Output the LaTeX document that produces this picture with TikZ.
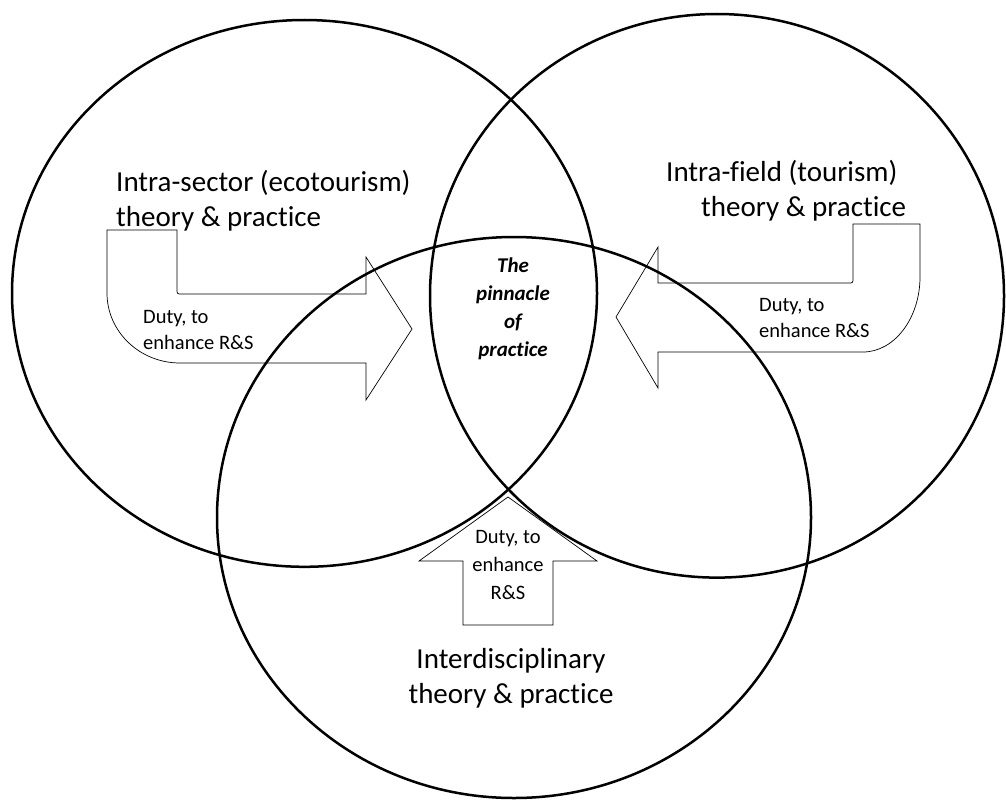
\documentclass[tikz,border=0pt]{standalone}
\usepackage{fontspec}
\setmainfont{Carlito}[Ligatures=NoCommon]

\begin{document}
\begin{tikzpicture}[x=1pt, y=-1pt,
		ring/.style={line width=2.5pt},
		blockarrow/.style={line width=0.7pt, line join=miter},
		bigtext/.style={font=\fontsize{29}{35}\selectfont, inner sep=0pt},
		dutytext/.style={font=\fontsize{20.5}{26}\selectfont, inner sep=0pt}]
		\useasboundingbox (0,0) rectangle (1006,800);
		
		% the three circles
		\draw[ring] (304.5,293.4) ellipse [x radius=292.5pt, y radius=273.4pt]; % sector
		\draw[ring] (717,295.8) ellipse [x radius=287pt, y radius=281.8pt]; % field
		\draw[ring] (514,517.5) ellipse [x radius=297pt, y radius=280.5pt]; % interdisciplinary
		
		% block arrows pointing at the middle
		\draw[blockarrow] (107,230) -- (177,230) -- (177,289) .. controls (177,294) .. (182,294)
		-- (366,294) -- (366,257) -- (412,329) -- (366,400) -- (366,363) -- (180,363)
		.. controls (140,363) and (107,332) .. (107,293) -- cycle;
		\draw[blockarrow] (920,224) -- (853,224) -- (853,278) .. controls (853,283) .. (848,283)
		-- (658,283) -- (658,247) -- (616,317) -- (658,388) -- (658,352) -- (863,352)
		.. controls (894.5,352) and (920,318) .. (920,277) -- cycle;
		\draw[blockarrow] (463,625) -- (463,561) -- (419,561) -- (508,497) -- (597,561)
		-- (553,561) -- (553,625) -- cycle;
		
		% labels
		\node[bigtext, align=left, anchor=west] (sector) at (116,201)
		{Intra-sector (ecotourism)\\theory \& practice};
		\node[bigtext, align=left, anchor=west] (field) at (666,191)
		{Intra-field (tourism)\\\hspace*{35pt}theory \& practice};
		\node[bigtext, align=center] (inter) at (511,678)
		{Interdisciplinary\\theory \& practice};
		\node[font=\fontsize{21}{28}\selectfont\bfseries\itshape, align=center, inner sep=0pt]
		(pinnacle) at (513,309) {The\\pinnacle\\of\\practice};
		
		\node[dutytext, align=left, anchor=west] (dutyleft) at (143,330) {Duty, to\\enhance R\&S};
		\node[dutytext, align=left, anchor=west] (dutyright) at (759,318) {Duty, to\\enhance R\&S};
		\node[dutytext, align=center, font=\fontsize{20.5}{28}\selectfont] (dutyup) at (508,565)
		{Duty, to\\enhance\\R\&S};
	\end{tikzpicture}
\end{document}
